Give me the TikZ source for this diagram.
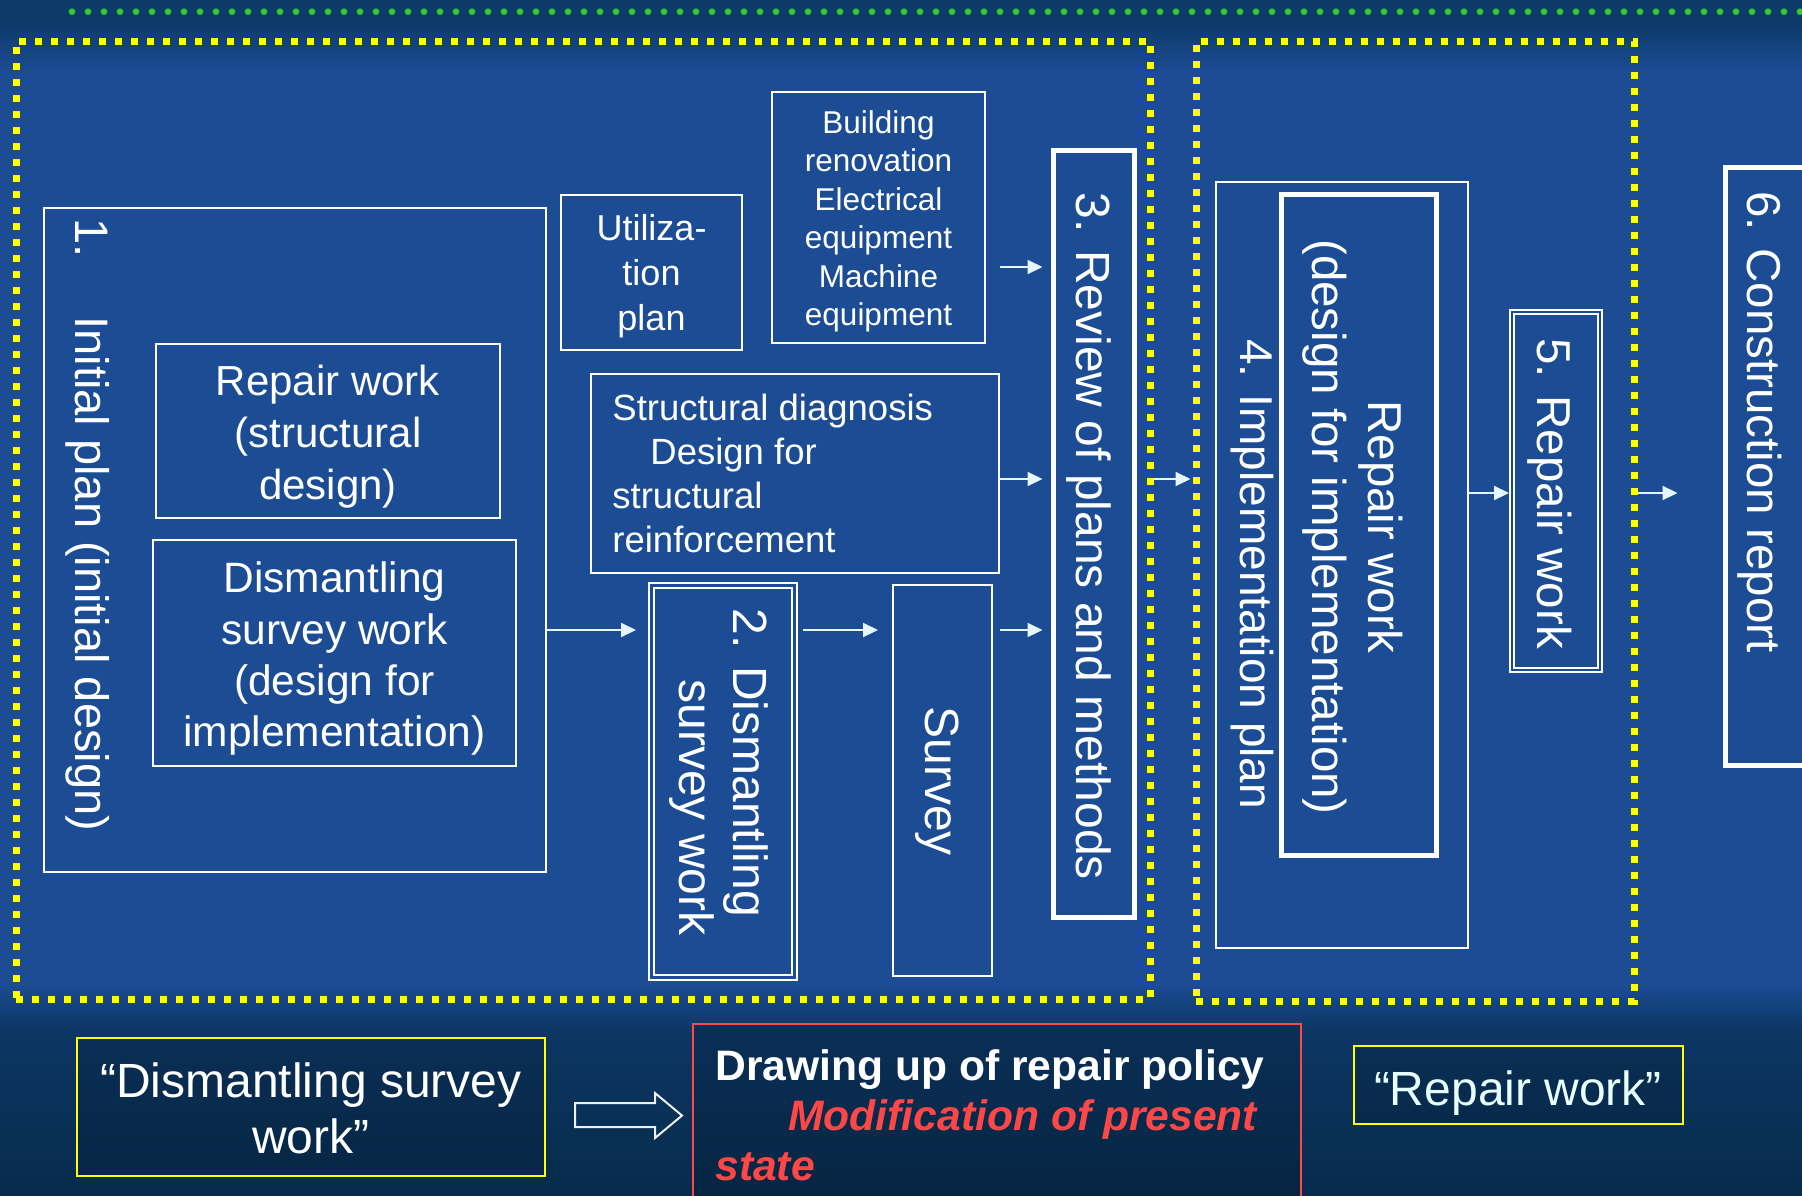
\documentclass[tikz,border=0pt]{standalone}
\usepackage{fontspec}
\setmainfont{Liberation Sans}
\usetikzlibrary{arrows.meta,fit,calc}
\definecolor{bgmain}{HTML}{1B4C94}
\definecolor{bgtop}{HTML}{0E3A6A}
\definecolor{bgbot}{HTML}{072B4C}
\definecolor{bgmid}{HTML}{0C3663}
\definecolor{dotgreen}{HTML}{33CC33}
\definecolor{dashyellow}{HTML}{FFFF00}
\definecolor{arrowc}{HTML}{E6F6FF}
\definecolor{redc}{HTML}{FF4848}
\definecolor{redtext}{HTML}{FF4747}
\definecolor{lightcyan}{HTML}{E8FFFF}
\pgfdeclareverticalshading{bgshade}{100bp}{color(0bp)=(bgbot); color(25bp)=(bgbot); color(31.9bp)=(bgmid); color(33.8bp)=(bgmain); color(72bp)=(bgmain); color(74bp)=(bgtop); color(75bp)=(bgtop); color(100bp)=(bgtop)}
\newcommand{\fsz}[2]{\fontsize{#1}{#2}\selectfont}
\tikzset{
  wbox/.style={draw=white, line width=1pt, inner sep=0pt},
  thickbox/.style={draw=white, line width=2.5pt, inner sep=0pt},
  ybox/.style={draw=dashyellow, line width=3.5pt, dash pattern=on 3.5pt off 4.5pt, inner sep=0pt},
  botbox/.style={draw=dashyellow, line width=1.25pt, fill=black, fill opacity=0.12, text opacity=1, inner sep=0pt},
  redbox/.style={draw=redc, line width=1pt, fill=black, fill opacity=0.12, inner sep=0pt},
  txt/.style={text=white, inner sep=0pt},
  rtxt/.style={txt, rotate=-90, anchor=base west},
  arr/.style={draw=arrowc, line width=1pt, -{Triangle[length=7.5pt,width=7pt]}},
  innerline/.style={draw=white, line width=1pt},
  hollow/.style={draw=white!88!gray, line width=1pt},
  greendots/.style={draw=dotgreen, line width=3.3pt, line cap=round, dash pattern=on 0pt off 8pt},
}
\begin{document}
\begin{tikzpicture}[x=0.5pt,y=-0.5pt]
\useasboundingbox (0,0) rectangle (1802,1195);
\shade[shading=bgshade] (0,0) rectangle (1802,1195);

% green dotted line
\draw[greendots] (72,11.7) -- (1810,11.7);

% yellow group frames
\node[ybox, fit={(16,41) (1150,999)}] (yb1) {};
\node[ybox, fit={(1196,41) (1634,1001)}] (yb2) {};

% 1. Initial plan
\node[wbox, fit={(44,208) (546,872)}] (b1) {};
\node[rtxt, font=\fsz{23.5pt}{28pt}] (t1) at (75,218) {1.\hspace{29.5pt}Initial plan (initial design)};
\node[wbox, fit={(156,344) (500,518)}] (b1a) {};
\node[txt, align=center, anchor=base, font=\fsz{21pt}{25.8pt}] (t1a) at (328,499) {Repair work\\(structural\\design)};
\node[wbox, fit={(153,540) (516,766)}] (b1b) {};
\node[txt, align=center, anchor=base, font=\fsz{21.25pt}{25.6pt}] (t1b) at (334.5,746.5) {Dismantling\\survey work\\(design for\\implementation)};

% Utilization plan
\node[wbox, fit={(561,195) (742,350)}] (util) {};
\node[txt, align=center, anchor=base, font=\fsz{18pt}{22.5pt}] (tutil) at (651.5,330.5) {Utiliza-\\tion\\plan};

% Building renovation
\node[wbox, fit={(772,92) (985,343)}] (build) {};
\node[txt, align=center, anchor=base, font=\fsz{15.75pt}{19.2pt}] (tbuild) at (878.5,325.5) {Building\\renovation\\Electrical\\equipment\\Machine\\equipment};

% Structural diagnosis
\node[wbox, fit={(591,374) (999,573)}] (sdiag) {};
\node[txt, align=left, anchor=base west, font=\fsz{18.25pt}{22.1pt}] (tsdiag) at (612,552.6) {Structural diagnosis\\\hspace*{19pt}Design for\\structural\\reinforcement};

% 2. Dismantling survey work
\node[wbox, fit={(649,583) (797,980)}] (b2) {};
\draw[innerline] ([xshift=3pt,yshift=-3pt]b2.north west) rectangle ([xshift=-3pt,yshift=3pt]b2.south east);
\node[rtxt, font=\fsz{24pt}{28pt}] (t2a) at (733,608) {2. Dismantling};
\node[rtxt, font=\fsz{24pt}{28pt}] (t2b) at (679,679) {survey work};

% Survey
\node[wbox, fit={(893,585) (992,976)}] (survey) {};
\node[rtxt, font=\fsz{24pt}{28pt}] (tsurvey) at (925,706) {Survey};

% 3. Review
\node[thickbox, fit={(1053.5,150.5) (1134.5,917.5)}] (rev) {};
\node[rtxt, font=\fsz{24pt}{28pt}] (trev) at (1076,192) {3. Review of plans and methods};

% 4. Implementation plan
\node[wbox, fit={(1216,182) (1468,948)}] (b4) {};
\node[thickbox, fit={(1281.5,194.5) (1436.5,855.5)}] (b4in) {};
\node[rtxt, font=\fsz{23pt}{28pt}] (t4) at (1240,339) {4. Implementation plan};
\node[rtxt, anchor=base, font=\fsz{23.75pt}{28pt}] (t4a) at (1368,527) {Repair work};
\node[rtxt, anchor=base, font=\fsz{23.75pt}{28pt}] (t4b) at (1312,527) {(design for implementation)};

% 5. Repair work
\node[wbox, fit={(1510,310) (1602,672)}] (b5) {};
\draw[innerline] ([xshift=2.5pt,yshift=-2.5pt]b5.north west) rectangle ([xshift=-2.5pt,yshift=2.5pt]b5.south east);
\node[rtxt, font=\fsz{23.75pt}{28pt}] (t5) at (1537,338) {5. Repair work};

% 6. Construction report
\node[thickbox, fit={(1725.5,167.5) (1815,765.5)}] (b6) {};
\node[rtxt, font=\fsz{23.75pt}{28pt}] (t6) at (1747,191) {6. Construction report};

% arrows
\coordinate (yA) at (0,630);
\coordinate (yB) at (0,479);
\coordinate (yC) at (0,267);
\coordinate (yD) at (0,493);
\draw[arr] (b1.east |- yA) -- ([xshift=-6pt]b2.west |- yA);
\draw[arr] ([xshift=2.5pt]b2.east |- yA) -- ([xshift=-7pt]survey.west |- yA);
\draw[arr] ([xshift=3.5pt]survey.east |- yA) -- ([xshift=-4.25pt]rev.west |- yA);
\draw[arr] (sdiag.east |- yB) -- ([xshift=-4.25pt]rev.west |- yB);
\draw[arr] ([xshift=7pt]build.east |- yC) -- ([xshift=-4.25pt]rev.west |- yC);
\draw[arr] (yb1.east |- yB) -- ([xshift=-1pt]yb2.west |- yB);
\draw[arr] (b4.east |- yD) -- (b5.west |- yD);
\draw[arr] (yb2.east |- yD) -- ([xshift=-22.75pt]b6.west |- yD);

% bottom row
\node[botbox, fit={(77,1038) (545,1176)}] (bq1) {};
\node[txt, align=center, anchor=base, font=\fsz{24pt}{28.25pt}] (tq1) at (311,1153.5) {“Dismantling survey\\work”};
\draw[hollow] (575,1103) -- (655,1103) -- (655,1093) -- (682,1115.5) -- (655,1138) -- (655,1127) -- (575,1127) -- cycle;
\node[redbox, fit={(693,1024) (1301,1210)}] (redb) {};
\node[txt, align=left, anchor=base west, font=\bfseries\fsz{21.3pt}{25pt}] (tred) at (715,1180) {Drawing up of repair policy\\\hspace*{36.5pt}{\color{redtext}\itshape Modification of present}\\{\color{redtext}\itshape state}};
\node[botbox, fit={(1354,1046) (1683,1124)}] (bq2) {};
\node[txt, text=lightcyan, anchor=base, font=\fsz{24pt}{28pt}] (tq2) at (1518,1105) {“Repair work”};
\end{tikzpicture}
\end{document}
